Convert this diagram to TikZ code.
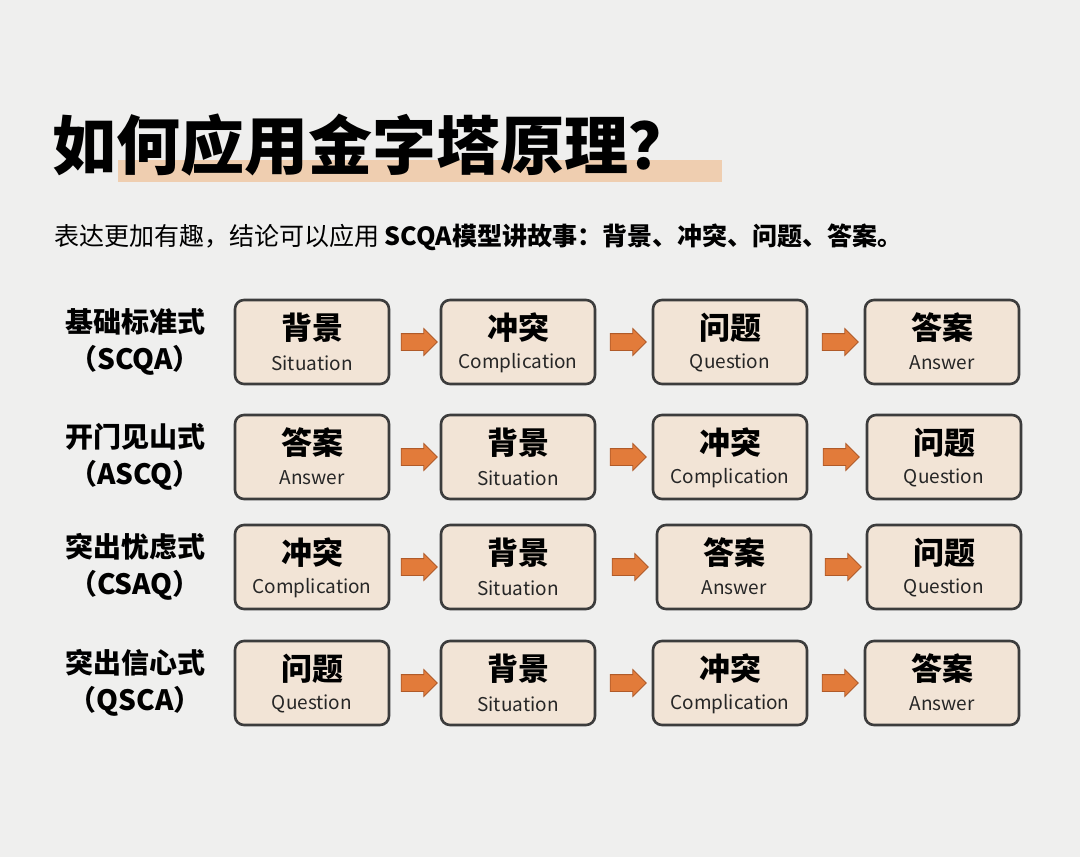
\documentclass[tikz,border=0pt]{standalone}
\usepackage{fontspec}
\usetikzlibrary{shapes.arrows}
\newfontfamily\cjk{Noto Sans CJK SC}
\definecolor{bg}{HTML}{EFEFEE}
\definecolor{boxfill}{HTML}{F2E4D6}
\definecolor{boxline}{HTML}{3C3C3C}
\definecolor{arr}{HTML}{E27B3A}
\definecolor{arrline}{HTML}{B05A28}
\definecolor{hl}{HTML}{F0C49C}
\begin{document}
\begin{tikzpicture}[x=1pt,y=-1pt,
 card/.style={draw=boxline, line width=2.6pt, fill=boxfill, rounded corners=9pt, minimum width=154pt, minimum height=84pt, inner sep=0pt},
 cn/.style={font=\cjk\bfseries\fontsize{31}{33}\selectfont, inner sep=0pt},
 en/.style={font=\cjk\fontsize{19}{21}\selectfont, text=black!85, inner sep=0pt},
 flow/.style={single arrow, fill=arr, draw=arrline, line width=0.8pt, minimum height=36pt, inner xsep=0pt, inner ysep=8pt, single arrow head extend=5pt},
 rowlab/.style={font=\cjk\bfseries\fontsize{28}{37}\selectfont, align=center, inner sep=0pt}
]
\useasboundingbox (0,0) rectangle (1080,857);
\fill[bg] (0,0) rectangle (1080,857);
% title
\fill[hl, opacity=0.75] (118,160) rectangle (722,182);
\node[anchor=west, font=\cjk\bfseries\fontsize{64}{66}\selectfont, inner sep=0pt] (title) at (52,145) {如何应用金字塔原理？};
\node[anchor=west, font=\cjk\fontsize{25}{27}\selectfont, inner sep=0pt] (sub) at (54,237) {表达更加有趣，结论可以应用 {\bfseries SCQA模型讲故事：背景、冲突、问题、答案。}};
% rows
\foreach \r/\y/\lab/\a/\aa/\b/\bb/\c/\cc/\d/\dd/\xc/\xd in {
 1/342/基础标准式\\（SCQA）/背景/Situation/冲突/Complication/问题/Question/答案/Answer/730/942,
 2/457/开门见山式\\（ASCQ）/答案/Answer/背景/Situation/冲突/Complication/问题/Question/730/944,
 3/567/突出忧虑式\\（CSAQ）/冲突/Complication/背景/Situation/答案/Answer/问题/Question/734/944,
 4/683/突出信心式\\（QSCA）/问题/Question/背景/Situation/冲突/Complication/答案/Answer/730/942}{
 \node[rowlab] (lab\r) at (135,\y) {\lab};
 \node[card] (r\r c1) at (312,\y) {};
 \node[card] (r\r c2) at (518,\y) {};
 \node[card] (r\r c3) at (\xc,\y) {};
 \node[card] (r\r c4) at (\xd,\y) {};
 \node[cn] at ([yshift=14pt]r\r c1.center) {\a};
 \node[en] at ([yshift=-21pt]r\r c1.center) {\aa};
 \node[cn] at ([yshift=14pt]r\r c2.center) {\b};
 \node[en] at ([yshift=-21pt]r\r c2.center) {\bb};
 \node[cn] at ([yshift=14pt]r\r c3.center) {\c};
 \node[en] at ([yshift=-21pt]r\r c3.center) {\cc};
 \node[cn] at ([yshift=14pt]r\r c4.center) {\d};
 \node[en] at ([yshift=-21pt]r\r c4.center) {\dd};
 \path (r\r c1.east) -- (r\r c2.west) node[flow, midway] {};
 \path (r\r c2.east) -- (r\r c3.west) node[flow, midway] {};
 \path (r\r c3.east) -- (r\r c4.west) node[flow, midway] {};
}
\end{tikzpicture}
\end{document}
